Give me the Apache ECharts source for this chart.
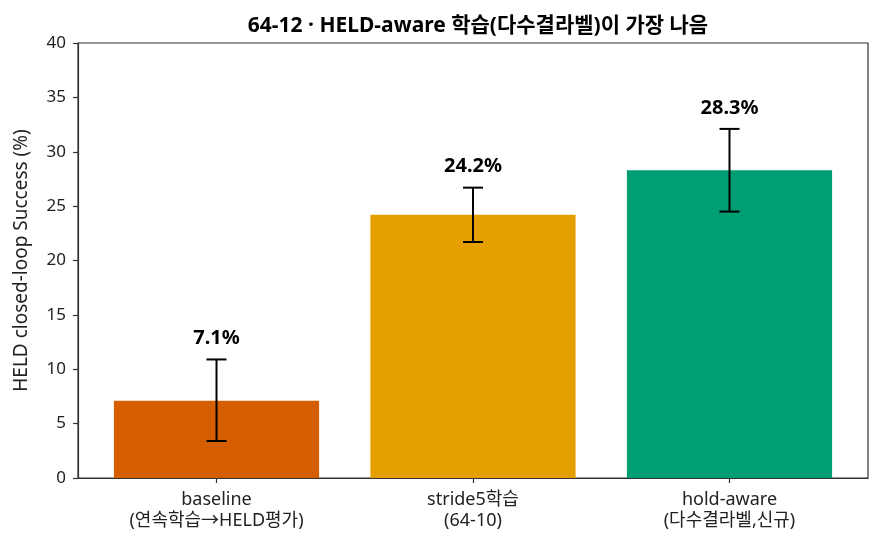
<!DOCTYPE html>
<html lang="ko">
<head>
    <meta charset="UTF-8">
    <title>64-12 HELD-aware</title>
    <script src="https://cdn.jsdelivr.net/npm/echarts@6/dist/echarts.min.js"></script>
    <style>
        html, body { margin: 0; padding: 0; background: #fff; }
        #main { width: 882px; height: 546px; }
    </style>
</head>
<body>
    <div id="main"></div>
    <script>
        // 데이터
        var categories = ['baseline\n(연속학습→HELD평가)', 'stride5학습\n(64-10)', 'hold-aware\n(다수결라벨,신규)'];
        var successRate = [7.1, 24.2, 28.3];
        var errLow = [3.4, 21.7, 24.5];
        var errHigh = [10.9, 26.7, 32.1];
        var barColors = ['#D55E00', '#E69F00', '#009E73'];
        var yTicks = [0, 5, 10, 15, 20, 25, 30, 35, 40];

        var font = '"Noto Sans", "Noto Sans CJK KR", sans-serif';
        var myChart = echarts.init(document.getElementById('main'));

        var barData = successRate.map(function (v, i) {
            return [i, v, errLow[i], errHigh[i]];
        });

        var option = {
            animation: false,
            title: {
                text: '64-12 · HELD-aware 학습(다수결라벨)이 가장 나음',
                left: 473,
                textAlign: 'center',
                top: 11,
                textStyle: { fontFamily: font, fontSize: 21, fontWeight: 'bold', color: '#000' }
            },
            grid: {
                left: 78, right: 14, top: 43, bottom: 68,
                show: true, borderColor: '#333', borderWidth: 1.2
            },
            xAxis: {
                type: 'value',
                min: -0.54,
                max: 2.54,
                splitLine: { show: false },
                axisLine: { show: true, onZero: false, lineStyle: { color: '#333', width: 1.2 } },
                axisTick: { show: true, customValues: [0, 1, 2], length: 5, lineStyle: { color: '#333', width: 1.2 } },
                axisLabel: {
                    customValues: [0, 1, 2],
                    margin: 11,
                    fontFamily: font, fontSize: 18, color: '#222', lineHeight: 21,
                    formatter: function (v) { return categories[Math.round(v)]; }
                }
            },
            yAxis: {
                type: 'value',
                min: 0,
                max: 40,
                interval: 5,
                name: 'HELD closed-loop Success (%)',
                nameLocation: 'middle',
                nameGap: 47,
                nameTextStyle: { fontFamily: font, fontSize: 19, color: '#222' },
                splitLine: { show: false },
                axisLine: { show: true, onZero: false, lineStyle: { color: '#333', width: 1.2 } },
                axisTick: { show: true, length: 5, lineStyle: { color: '#333', width: 1.2 } },
                axisLabel: {
                    fontFamily: font, fontSize: 17, color: '#222', margin: 12,
                    formatter: function (v) { return yTicks.indexOf(v) >= 0 ? String(v) : ''; }
                }
            },
            series: [{
                type: 'custom',
                data: barData,
                encode: { x: 0, y: [1, 2, 3] },
                renderItem: function (params, api) {
                    var x = api.value(0);
                    var v = api.value(1);
                    var lo = api.value(2);
                    var hi = api.value(3);
                    var w = api.size([0.8, 0])[0];
                    var base = api.coord([x, 0]);
                    var top = api.coord([x, v]);
                    var pLo = api.coord([x, lo]);
                    var pHi = api.coord([x, hi]);
                    var cap = 10;
                    var lineStyle = { stroke: '#000', lineWidth: 2 };
                    return {
                        type: 'group',
                        children: [
                            {
                                type: 'rect',
                                shape: { x: base[0] - w / 2, y: top[1], width: w, height: base[1] - top[1] },
                                style: { fill: barColors[params.dataIndex] }
                            },
                            { type: 'line', shape: { x1: pLo[0], y1: pLo[1], x2: pHi[0], y2: pHi[1] }, style: lineStyle },
                            { type: 'line', shape: { x1: pLo[0] - cap, y1: pLo[1], x2: pLo[0] + cap, y2: pLo[1] }, style: lineStyle },
                            { type: 'line', shape: { x1: pHi[0] - cap, y1: pHi[1], x2: pHi[0] + cap, y2: pHi[1] }, style: lineStyle },
                            {
                                type: 'text',
                                x: pHi[0],
                                y: pHi[1] - 11,
                                style: {
                                    text: v.toFixed(1) + '%',
                                    fill: '#000',
                                    font: 'bold 20px ' + font,
                                    textAlign: 'center',
                                    textVerticalAlign: 'bottom'
                                }
                            }
                        ]
                    };
                }
            }]
        };

        myChart.setOption(option);
        window.onresize = myChart.resize;
    </script>
</body>
</html>
